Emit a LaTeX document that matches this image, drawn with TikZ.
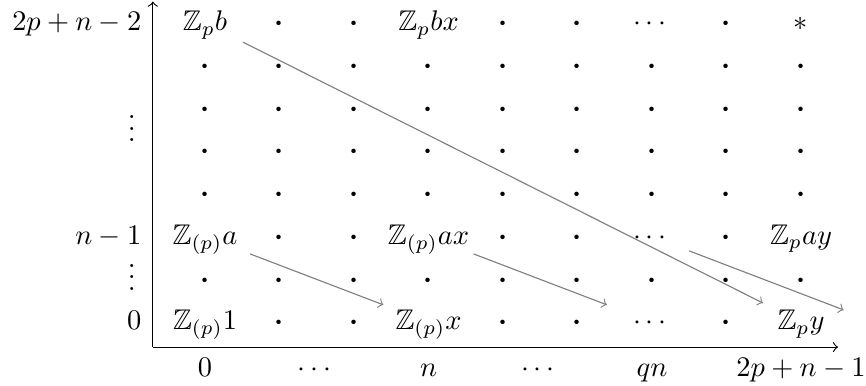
\documentclass[tikz,border=0pt]{standalone}
\usepackage{amsmath,amssymb}
\usepackage{tikz}
\usepackage{xcolor}

\tikzset{entry/.style={inner sep=0pt, text height=1.5ex, text depth=.25ex},
  diff/.style={->, gray}}

\begin{document}
\begin{tikzpicture}[x=26.23pt, y=15.04pt]
\useasboundingbox (-2.752,-1.475) rectangle (8.872,7.541);
\coordinate (O) at (-0.7,-0.585); \coordinate (ytop) at (-0.7,7.505); \coordinate (xend) at (8.497,-0.585);
\draw[->] (O) -- (ytop); \draw[->] (O) -- (xend);
\foreach \j in {1,3,4,5,6} \foreach \i in {0,...,8} \node[entry] (e-\i-\j) at (\i,\j) {$\boldsymbol{\cdot}$};
\foreach \j in {0,2,7} \foreach \i in {1,2,4,5,7} \node[entry] (e-\i-\j) at (\i,\j) {$\boldsymbol{\cdot}$};
\node[entry] (z1) at (0,0) {$\mathbb{Z}_{(p)}1$}; \node[entry] (zx) at (3,0) {$\mathbb{Z}_{(p)}x$};
\node[entry] (c0) at (6,0) {$\cdots$}; \node[entry] (zy) at (8,0) {$\mathbb{Z}_py$};
\node[entry] (za) at (0,2) {$\mathbb{Z}_{(p)}a$}; \node[entry] (zax) at (3,2) {$\mathbb{Z}_{(p)}ax$};
\node[entry] (c2) at (6,2) {$\cdots$}; \node[entry] (zay) at (8,2) {$\mathbb{Z}_pay$};
\node[entry] (zb) at (0,7) {$\mathbb{Z}_pb$}; \node[entry] (zbx) at (3,7) {$\mathbb{Z}_pbx$};
\node[entry] (c7) at (6,7) {$\cdots$}; \node[entry] (star) at (8,7) {$*$};
\node[entry, anchor=east] (l7) at (-0.846,7) {$2p+n-2$};
\node[entry, anchor=east] (l2) at (-0.846,2) {$n-1$};
\node[entry, anchor=east] (l0) at (-0.846,0) {$0$};
\node[entry, anchor=base] (v1) at (-0.984,4.23) {$\vdots$};
\node[entry, anchor=base] (v0) at (-0.984,0.75) {$\vdots$};
\node[entry] (b0) at (0,-1.1) {$0$}; \node[entry] (b1) at (1.5,-1.1) {$\cdots$};
\node[entry] (b3) at (3,-1.1) {$n$}; \node[entry] (b4) at (4.5,-1.1) {$\cdots$};
\node[entry] (b6) at (6,-1.1) {$qn$}; \node[entry] (b8) at (8,-1.1) {$2p+n-1$};
\coordinate (ghost) at (9,0);
\draw[diff, shorten <=17pt, shorten >=17pt] (za.center) -- (zx.center);
\draw[diff, shorten <=17pt, shorten >=17pt] (zax.center) -- (c0.center);
\draw[diff, shorten <=14pt, shorten >=12pt] (c2.center) -- (ghost);
\draw[diff, shorten <=15pt, shorten >=15pt] (zb.center) -- (zy.center);
\end{tikzpicture}
\end{document}
